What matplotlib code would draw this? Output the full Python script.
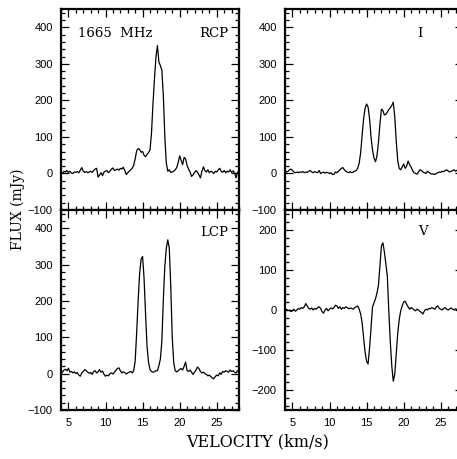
import numpy as np
import matplotlib
matplotlib.use('Agg')
import matplotlib.pyplot as plt
from matplotlib.ticker import MultipleLocator

# --------------------------- data (mJy) ---------------------------
# channel velocities, km/s
vel = np.round(np.arange(4.0, 28.01, 0.2), 1)

rcp = [2, 0, 6, 4, 8,   3, 6, 1, 0, 4,   3, 5, 2, 9, 16,   6, 3, 5, 2, 4,
       6, 3, 8, 12, 14,   -10, -4, 2, -6, 4,   6, 8, 2, 6, 12,   15, 8, 10, 12, 9,
       14, 12, 17, 8, -3,   2, 6, 10, 14, 22,   40, 62, 68, 66, 58,   60, 50, 46, 52, 57,
       64, 110, 190, 258, 318,   350, 305, 295, 282, 212,   100, 28, 6, 10, 3,   4, 6, 10, 16, 30,
       48, 36, 24, 44, 40,   22, 12, 4, -8, -4,   2, 8, 4, -4, -12,   6, 18, 8, 4, 10,
       2, 6, 4, 0, 6,   4, 10, 14, 6, 3,   8, 2, 6, 4, 10,   3, 7, 2, -12, 4,
       0]

lcp = [0, 4, 10, 12, 8,   15, 4, 6, 2, 5,   0, 3, -4, -7, 2,   6, 11, 8, 4, 1,
       3, -2, 6, 8, 2,   5, 11, 4, 7, -2,   -7, -4, -6, 0, 2,   -1, 4, 9, 14, 16,
       8, 2, 5, 3, -1,   2, 4, 6, 2, 8,   34, 112, 200, 275, 315,   322, 262, 165, 75, 32,
       11, 6, 4, 5, 8,   8, 22, 40, 90, 205,   295, 345, 368, 345, 240,   100, 30, 8, 5, 8,
       12, 14, 10, 20, 32,   8, 6, 10, 4, -2,   4, 10, 18, 14, 6,   2, 4, 0, -2, -6,
       -4, -8, -12, -14, -8,   -4, -6, 2, -2, 6,   4, 8, 6, 4, 10,   6, 8, 4, 2, 8,
       6]

stokes_i = [2, 4, 6, 10, 12,   8, 4, 2, 4, 2,   4, 3, 5, 2, 4,   3, 6, 8, 4, 2,
            5, 3, 2, 8, 0,   2, 4, 1, 3, 2,   0, 2, -3, -2, 4,   2, 6, 10, 14, 16,
            10, 6, 4, 2, 5,   2, 4, 6, 8, 14,   28, 57, 105, 150, 178,   190, 182, 150, 100, 64,
            42, 32, 48, 85, 135,   176, 172, 160, 162, 168,   175, 180, 186, 195, 155,   88, 35, 14, 10, 18,
            26, 14, 20, 34, 24,   18, 8, 2, 0, -2,   4, 10, 8, 4, 2,   0, 6, 3, 0, -2,
            -1, -3, 0, 2, 4,   3, 6, 5, 8, 10,   7, 4, 6, 8, 10,   6, 9, 5, 7, 4,
            6]

stokes_v = [0, 2, -2, 0, -4,   -2, 2, -3, 0, 4,   2, 6, 4, 8, 16,   10, 4, 2, 5, 0,
            4, 2, 6, 8, 4,   -4, -8, 0, 4, -2,   2, 5, 3, 6, 12,   10, 4, 8, 2, 6,
            4, 8, 6, 3, 5,   4, 2, 6, 8, 10,   2, -10, -32, -70, -105,   -128, -135, -95, -45, 8,
            18, 28, 42, 62, 110,   160, 168, 145, 115, 84,   -5, -80, -140, -178, -160,   -110, -58, -24, -2, 10,
            20, 22, 14, 8, 2,   6, 4, 0, -2, 2,   0, -4, -6, -10, -2,   2, 0, 4, 3, 6,
            4, 2, 8, 10, 4,   2, 0, 4, 6, 2,   0, 3, 5, 2, 0,   3, 1, 4, 2, 0,
            2]

panel_labels = ['RCP', 'I', 'LCP', 'V']

# --------------------------- style ---------------------------
plt.rcParams['font.family'] = 'Liberation Sans'
plt.rcParams['xtick.labelsize'] = 8
plt.rcParams['ytick.labelsize'] = 8
serif = 'DejaVu Serif'

W, H = 457, 459
fig = plt.figure(figsize=(W / 100, H / 100), dpi=100)


def px_axes(x0, y0, x1, y1):
    # pixel box (from top-left) -> axes
    return fig.add_axes([x0 / W, 1 - y1 / H, (x1 - x0) / W, (y1 - y0) / H])


ax_rcp = px_axes(61, 9, 239, 210)
ax_i = px_axes(285, 9, 463, 210)
ax_lcp = px_axes(61, 210, 239, 410)
ax_v = px_axes(285, 210, 463, 410)

series = [(ax_rcp, rcp), (ax_i, stokes_i), (ax_lcp, lcp), (ax_v, stokes_v)]
for ax, flux in series:
    ax.plot(vel, flux, color='black', lw=0.9)
    ax.set_xlim(4.0, 28.0)
    ax.xaxis.set_major_locator(MultipleLocator(5))
    ax.xaxis.set_minor_locator(MultipleLocator(1))
    ax.tick_params(which='both', direction='in', top=True, right=True, width=0.9)
    ax.tick_params(which='major', length=6, pad=6)
    ax.tick_params(which='minor', length=3)
    for sp in ax.spines.values():
        sp.set_linewidth(1.6)

for ax in (ax_rcp, ax_i, ax_lcp):
    ax.set_ylim(-100, 450)
    ax.set_yticks([-100, 0, 100, 200, 300, 400])
    ax.yaxis.set_minor_locator(MultipleLocator(20))

ax_v.set_ylim(-250, 250)
ax_v.set_yticks([-200, -100, 0, 100, 200])
ax_v.yaxis.set_minor_locator(MultipleLocator(20))

for ax in (ax_rcp, ax_i):
    ax.tick_params(labelbottom=False)

# panel labels
ax_rcp.text(0.096, 0.88, '1665  MHz', transform=ax_rcp.transAxes, family=serif,
            fontsize=9.5, ha='left', va='center')
ax_rcp.text(0.938, 0.88, panel_labels[0], transform=ax_rcp.transAxes, family=serif,
            fontsize=9.5, ha='right', va='center')
ax_i.text(0.758, 0.88, panel_labels[1], transform=ax_i.transAxes, family=serif,
          fontsize=9.5, ha='center', va='center')
ax_lcp.text(0.938, 0.885, panel_labels[2], transform=ax_lcp.transAxes, family=serif,
            fontsize=9.5, ha='right', va='center')
ax_v.text(0.775, 0.89, panel_labels[3], transform=ax_v.transAxes, family=serif,
          fontsize=9.5, ha='center', va='center')

# axis titles
fig.text(18 / W, 1 - 209 / H, 'FLUX (mJy)', rotation=90, family=serif,
         fontsize=10, ha='center', va='center')
fig.text(258 / W, 1 - 442 / H, 'VELOCITY (km/s)', family=serif,
         fontsize=11.5, ha='center', va='center')

fig.savefig('out.png', dpi=100)
